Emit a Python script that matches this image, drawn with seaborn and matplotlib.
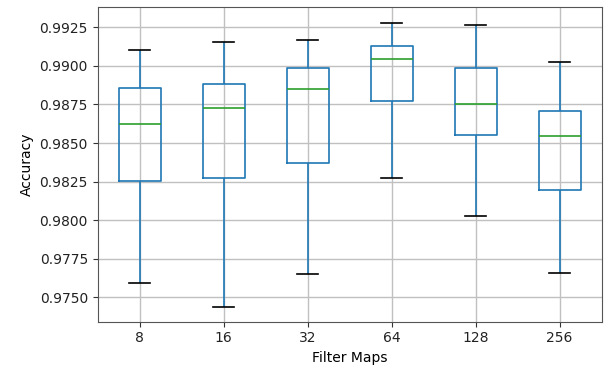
import pandas as pd
import matplotlib
matplotlib.use("Agg")
import matplotlib.pyplot as plt
import seaborn as sns
from matplotlib.ticker import FormatStrFormatter, MultipleLocator

# Valores: [whisker inferior, Q1, mediana, Q3, whisker superior]
filter_maps = ["8", "16", "32", "64", "128", "256"]
acc_8 = [0.97595, 0.98254, 0.98621, 0.98857, 0.99101]
acc_16 = [0.97437, 0.98273, 0.98725, 0.98882, 0.99157]
acc_32 = [0.97651, 0.98368, 0.98848, 0.98986, 0.99168]
acc_64 = [0.98273, 0.98772, 0.99044, 0.99129, 0.99280]
acc_128 = [0.98027, 0.98554, 0.98751, 0.98986, 0.99263]
acc_256 = [0.97659, 0.98197, 0.98545, 0.98706, 0.99025]

groups = [acc_8, acc_16, acc_32, acc_64, acc_128, acc_256]
rows = []
for fm, vals in zip(filter_maps, groups):
    for v in vals:
        rows.append({"Filter Maps": fm, "Accuracy": v})
df = pd.DataFrame(rows)

plt.rcParams.update({"font.family": "DejaVu Sans", "font.size": 10})

fig = plt.figure(figsize=(6.08, 3.71), dpi=100)
ax = fig.add_axes([0.1607, 0.1329, 0.8289, 0.8474])

blue = "#1f77b4"
sns.boxplot(
    data=df, x="Filter Maps", y="Accuracy", order=filter_maps,
    fill=False, width=0.5, whis=(0, 100), linewidth=1.2,
    boxprops={"color": blue},
    whiskerprops={"color": blue},
    capprops={"color": "black"},
    medianprops={"color": "#2ca02c"},
    capwidths=0.25,
    ax=ax,
)

ax.set_xlim(-0.5, 5.5)
ax.set_ylim(0.973419, 0.993796)
ax.yaxis.set_major_locator(MultipleLocator(0.0025))
ax.yaxis.set_major_formatter(FormatStrFormatter("%.4f"))
ax.grid(True, color="#c0c0c0", linewidth=1.0)
ax.set_axisbelow(True)
for s in ax.spines.values():
    s.set_color("#555555")
ax.tick_params(colors="#333333", labelcolor="#222222")
ax.set_xlabel("Filter Maps")
ax.set_ylabel("Accuracy")

fig.savefig("out.png", dpi=100)
